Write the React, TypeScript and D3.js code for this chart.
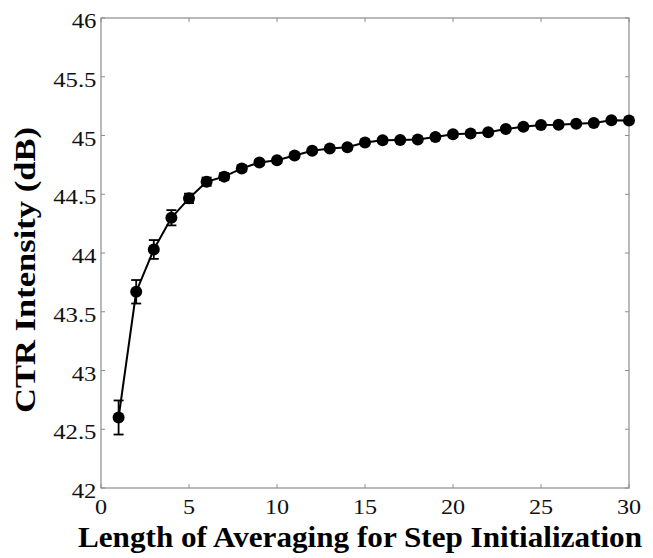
import React from "react";
import * as d3 from "d3";

const lengths = [1,2,3,4,5,6,7,8,9,10,11,12,13,14,15,16,17,18,19,20,21,22,23,24,25,26,27,28,29,30];
const intensity = [42.60,43.67,44.03,44.30,44.465,44.607,44.65,44.72,44.77,44.79,44.83,44.87,44.89,44.90,44.94,44.96,44.962,44.965,44.987,45.01,45.018,45.027,45.055,45.075,45.089,45.092,45.10,45.106,45.13,45.127];
const errors = [0.145,0.10,0.08,0.065,0.04,0.035,0.03,0.025,0.02,0.02,0.02,0.015,0.015,0.015,0.015,0.015,0.015,0.015,0.015,0.015,0.015,0.015,0.015,0.015,0.015,0.015,0.015,0.015,0.015,0.015];
const xTicks = [0,5,10,15,20,25,30];
const yTicks = [42,42.5,43,43.5,44,44.5,45,45.5,46];
const xLabel = "Length of Averaging for Step Initialization";
const yLabel = "CTR Intensity (dB)";

const W = 653, H = 558;
const L = 101, R = 629, T = 18, B = 488;

export default function App() {
  const x = d3.scaleLinear().domain([0, 30]).range([L, R]);
  const y = d3.scaleLinear().domain([42, 46]).range([B, T]);
  const pts = lengths.map((l, i) => ({ l, v: intensity[i], e: errors[i] }));
  const line = d3.line<any>().x(d => x(d.l)).y(d => y(d.v));
  const axisCol = "#8c8c8c";
  const font = "Liberation Serif";
  return (
    <svg width={W} height={H} style={{ position: "absolute", left: 0, top: 0, background: "#fff" }}>
      <rect x={L} y={T} width={R - L} height={B - T} fill="none" stroke={axisCol} strokeWidth={1.2} />
      {xTicks.map(t => (
        <g key={"xt" + t}>
          <line x1={x(t)} x2={x(t)} y1={B} y2={B - 4} stroke={axisCol} />
          <line x1={x(t)} x2={x(t)} y1={T} y2={T + 4} stroke={axisCol} />
          <text transform={`translate(${x(t)},514) scale(1.15,1)`} textAnchor="middle" fontFamily={font} fontSize={21} fill="#111">{t}</text>
        </g>
      ))}
      {yTicks.map(t => (
        <g key={"yt" + t}>
          <line x1={L} x2={L + 4} y1={y(t)} y2={y(t)} stroke={axisCol} />
          <line x1={R} x2={R - 4} y1={y(t)} y2={y(t)} stroke={axisCol} />
          <text transform={`translate(96.5,${y(t) + 10}) scale(1.18,1)`} textAnchor="end" fontFamily={font} fontSize={21} fill="#111">{t}</text>
        </g>
      ))}
      <path d={line(pts) || ""} fill="none" stroke="#000" strokeWidth={2} />
      {pts.map(p => (
        <g key={"e" + p.l} stroke="#000" strokeWidth={1.8}>
          <line x1={x(p.l)} x2={x(p.l)} y1={y(p.v - p.e)} y2={y(p.v + p.e)} />
          <line x1={x(p.l) - 5} x2={x(p.l) + 5} y1={y(p.v - p.e)} y2={y(p.v - p.e)} />
          <line x1={x(p.l) - 5} x2={x(p.l) + 5} y1={y(p.v + p.e)} y2={y(p.v + p.e)} />
        </g>
      ))}
      {pts.map(p => (
        <circle key={"c" + p.l} cx={x(p.l)} cy={y(p.v)} r={6} fill="#000" />
      ))}
      <text x={78} y={547} textLength={564} lengthAdjust="spacingAndGlyphs" fontFamily={font} fontWeight="bold" fontSize={29} fill="#000">{xLabel}</text>
      <text transform={`translate(34.5,413) rotate(-90)`} textLength={286} lengthAdjust="spacingAndGlyphs" fontFamily={font} fontWeight="bold" fontSize={29} fill="#000">{yLabel}</text>
    </svg>
  );
}
